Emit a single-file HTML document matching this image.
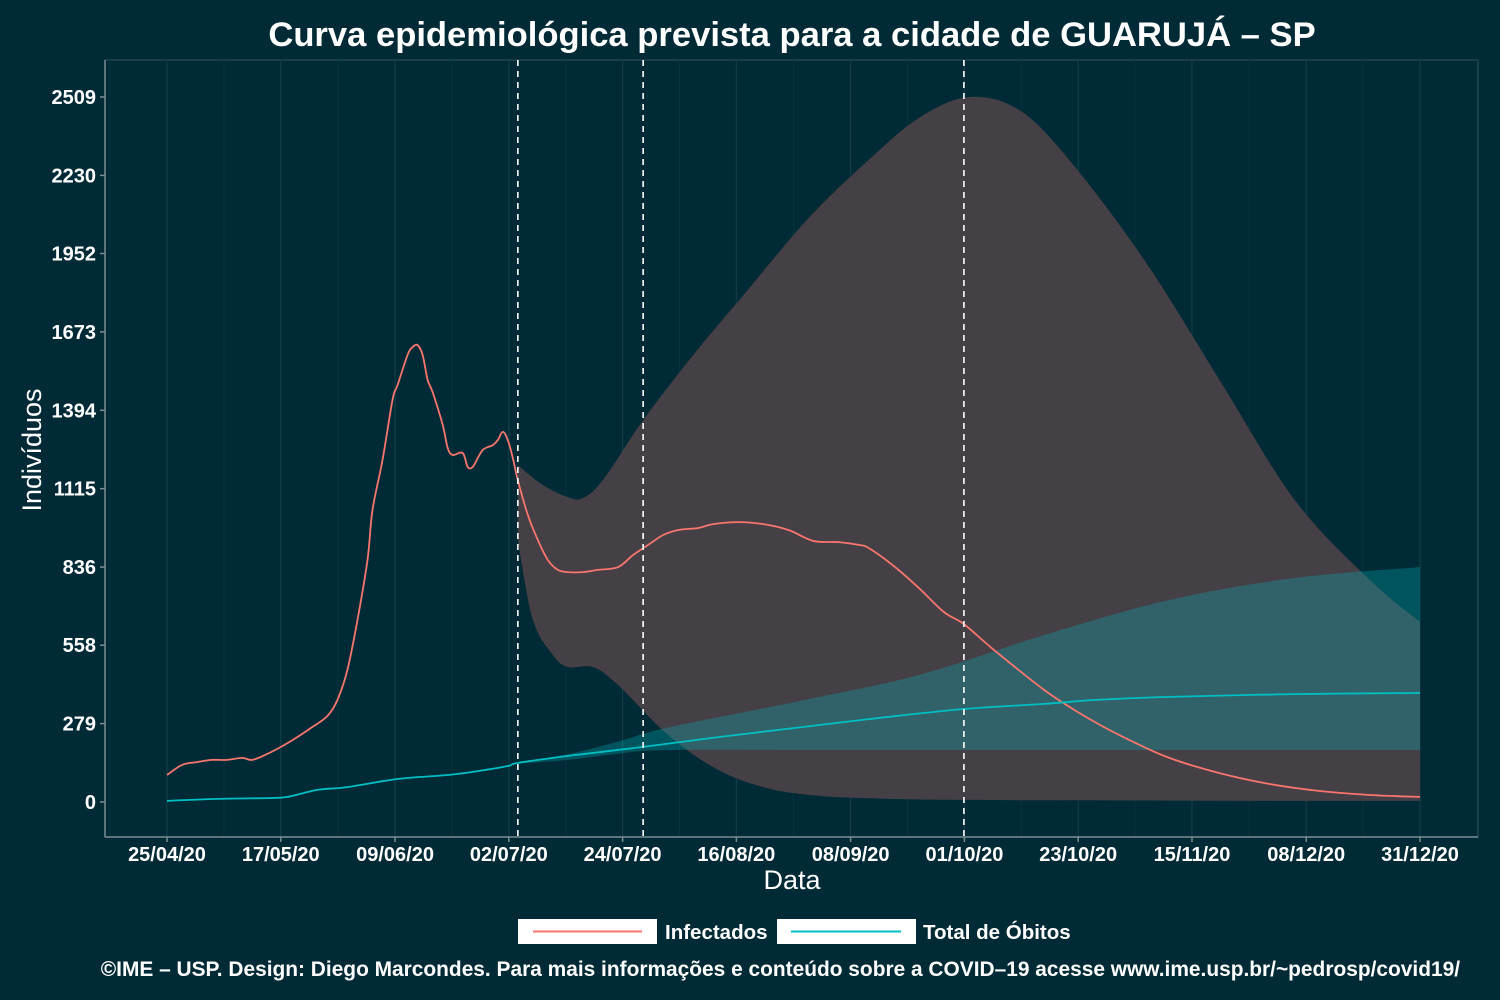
<!DOCTYPE html>
<html><head><meta charset="utf-8"><style>
html,body{margin:0;padding:0;background:#002b36;}
svg{display:block;font-family:"Liberation Sans",sans-serif;}
</style></head><body>
<svg id="chart" width="1500" height="1000">
<rect x="0" y="0" width="1500" height="1000" fill="#002b36"/>
<text x="792" y="46" text-anchor="middle" fill="#fff" font-size="34.6" font-weight="bold">Curva epidemiológica prevista para a cidade de GUARUJÁ – SP</text>
<g id="grid"></g>
<g id="bands"></g>
<g id="lines"></g>
<g id="axes"></g>
<text x="792" y="889" text-anchor="middle" fill="#fff" font-size="27">Data</text>
<text transform="translate(41,450) rotate(-90)" text-anchor="middle" fill="#fff" font-size="27">Indivíduos</text>
<g>
<g>
<rect x="518" y="919" width="139" height="25" fill="#fff"/>
<line x1="533" y1="931.5" x2="642" y2="931.5" stroke="#f8766d" stroke-width="2"/>
<text x="665" y="939" fill="#fff" font-size="20.5" font-weight="bold">Infectados</text>
</g>
<g>
<rect x="777" y="919" width="139" height="25" fill="#fff"/>
<line x1="791" y1="931.5" x2="901" y2="931.5" stroke="#00bfc4" stroke-width="2"/>
<text x="923" y="939" fill="#fff" font-size="20.5" font-weight="bold">Total de Óbitos</text>
</g>
</g>
<text x="1460" y="976" text-anchor="end" fill="#fff" font-size="20.9" font-weight="bold">©IME – USP. Design: Diego Marcondes. Para mais informações e conteúdo sobre a COVID–19 acesse www.ime.usp.br/~pedrosp/covid19/</text>
</svg>
<script>
const yTicks=[0,279,558,836,1115,1394,1673,1952,2230,2509];
const xTickLabels=["25/04/20","17/05/20","09/06/20","02/07/20","24/07/20","16/08/20","08/09/20","01/10/20","23/10/20","15/11/20","08/12/20","31/12/20"];
const xTickDays=[0,22.7,45.5,68.2,90.9,113.6,136.4,159.1,181.8,204.5,227.3,250];
const vLineDays=[70,95,159];
const infDays=[0,3,6,9,12,15,17,20,23,26,29,32,34,36,38,40,41,43,45,46,48,49,50,51,52,53,55,56,57,59,60,61,62,63,64,65,66,67,68,69,70,72,74,76,78,80,83,86,90,93,96,99,102,106,109,114,119,124,129,134,138,140,145,150,155,159,165,175,182,190,200,210,220,230,240,250];
const infVals=[96,132,142,150,150,157,150,171,199,231,267,306,363,470,648,861,1039,1217,1431,1484,1591,1619,1626,1591,1502,1459,1342,1260,1235,1242,1192,1192,1224,1253,1263,1270,1288,1317,1288,1224,1146,1021,932,861,826,818,818,826,836,879,915,950,968,975,989,996,989,968,929,925,915,904,840,762,676,633,541,399,317,238,157,103,64,39,25,18];
const deathDays=[0,10,20,24,30,36,46,56,62,68,70,80,95,110,125,140,159,175,185,200,225,250];
const deathVals=[4,11,14,18,43,53,82,96,110,128,139,164,196,231,263,295,331,349,363,374,384,388];
const infUpDays=[70,75,80,83,87,95,105,115,128,140,150,160,170,180,195,210,225,240,250];
const infUpVals=[1199,1128,1085,1082,1146,1359,1591,1804,2078,2285,2434,2509,2463,2285,1929,1502,1075,790,641];
const infLoDays=[70,73,77,80,85,90,100,110,120,130,140,155,175,200,225,250];
const infLoVals=[932,648,523,480,480,416,238,114,48,22,13,8,6,5,4,4];
const dUpDays=[70,80,90,100,125,150,175,200,225,250];
const dUpVals=[141,170,215,265,355,452,594,719,797,836];
const dLoDays=[70,80,90,100,130,160,190,220,250];
const dLoVals=[136,150,172,185,185,185,185,185,185];

const X=d=>167+d*5.012;
const Y=v=>802-v*0.281;
const NS="http://www.w3.org/2000/svg";
function mk(tag,attrs,parent){const e=document.createElementNS(NS,tag);for(const k in attrs)e.setAttribute(k,attrs[k]);parent.appendChild(e);return e;}
const grid=document.getElementById('grid'),bands=document.getElementById('bands'),lines=document.getElementById('lines'),axes=document.getElementById('axes');
const pb=mk('rect',{x:105,y:60,width:1373,height:777,fill:'none',stroke:'#34525a','stroke-width':1},grid);


for(let i=0;i<xTickDays.length;i++){
  const g=mk('line',{x1:X(xTickDays[i]),x2:X(xTickDays[i]),y1:60,y2:837,stroke:'#123d47','stroke-width':1.2},grid);
  
  
  const md=(i<xTickDays.length-1)?(xTickDays[i]+xTickDays[i+1])/2:xTickDays[i]+11.4;
  const m=mk('line',{x1:X(md),x2:X(md),y1:60,y2:837,stroke:'#08333e','stroke-width':1},grid);
  
  
}
const m0=mk('line',{x1:X(-11.4),x2:X(-11.4),y1:60,y2:837,stroke:'#08333e','stroke-width':1},grid);


function pts(ds,vs){return ds.map((d,i)=>[X(d),Y(vs[i])]);}
function spline(p,start){
  let s=(start?'M':'L')+p[0][0].toFixed(1)+','+p[0][1].toFixed(1);
  for(let i=0;i<p.length-1;i++){
    const p0=p[Math.max(i-1,0)],p1=p[i],p2=p[i+1],p3=p[Math.min(i+2,p.length-1)];
    const c1=[p1[0]+(p2[0]-p0[0])/6,p1[1]+(p2[1]-p0[1])/6];
    const c2=[p2[0]-(p3[0]-p1[0])/6,p2[1]-(p3[1]-p1[1])/6];
    s+=' C'+c1[0].toFixed(1)+','+c1[1].toFixed(1)+' '+c2[0].toFixed(1)+','+c2[1].toFixed(1)+' '+p2[0].toFixed(1)+','+p2[1].toFixed(1);
  }
  return s;
}
function bandPath(ud,uv,ld,lv){return spline(pts(ud,uv),true)+' '+spline(pts(ld,lv).reverse(),false)+' Z';}
const b1=mk('path',{d:bandPath(infUpDays,infUpVals,infLoDays,infLoVals),fill:'#453f46'},bands);


const b2=mk('path',{d:bandPath(dUpDays,dUpVals,dLoDays,dLoVals),fill:'#00bfc4','fill-opacity':0.28},bands);


const l1=mk('path',{d:spline(pts(infDays,infVals),true),fill:'none',stroke:'#f8766d','stroke-width':1.8,'stroke-linejoin':'round'},lines);


const l2=mk('path',{d:spline(pts(deathDays,deathVals),true),fill:'none',stroke:'#00bfc4','stroke-width':1.8,'stroke-linejoin':'round'},lines);


vLineDays.forEach(d=>{
  const v=mk('line',{x1:X(d),x2:X(d),y1:60,y2:837,stroke:'#fff','stroke-width':1.6,'stroke-dasharray':'6,5'},lines);
  
  
});
const ax=mk('line',{x1:105,x2:1478,y1:837,y2:837,stroke:'#7a8d92','stroke-width':1.5},axes);


const ay=mk('line',{x1:105,x2:105,y1:60,y2:837,stroke:'#7a8d92','stroke-width':1.5},axes);


yTicks.forEach(v=>{
  const t=mk('line',{x1:100,x2:105,y1:Y(v),y2:Y(v),stroke:'#7a8d92','stroke-width':1.5},axes);
  
  
  const tx=mk('text',{x:96,y:Y(v)+7,'text-anchor':'end',fill:'#fff','font-size':20,'font-weight':'bold'},axes);
  tx.textContent=v;
  
  
});
xTickDays.forEach((d,i)=>{
  const t=mk('line',{x1:X(d),x2:X(d),y1:837,y2:842,stroke:'#7a8d92','stroke-width':1.5},axes);
  
  
  const tx=mk('text',{x:X(d),y:861,'text-anchor':'middle',fill:'#fff','font-size':20,'font-weight':'bold'},axes);
  tx.textContent=xTickLabels[i];
  
  
});
</script>
</body></html>
